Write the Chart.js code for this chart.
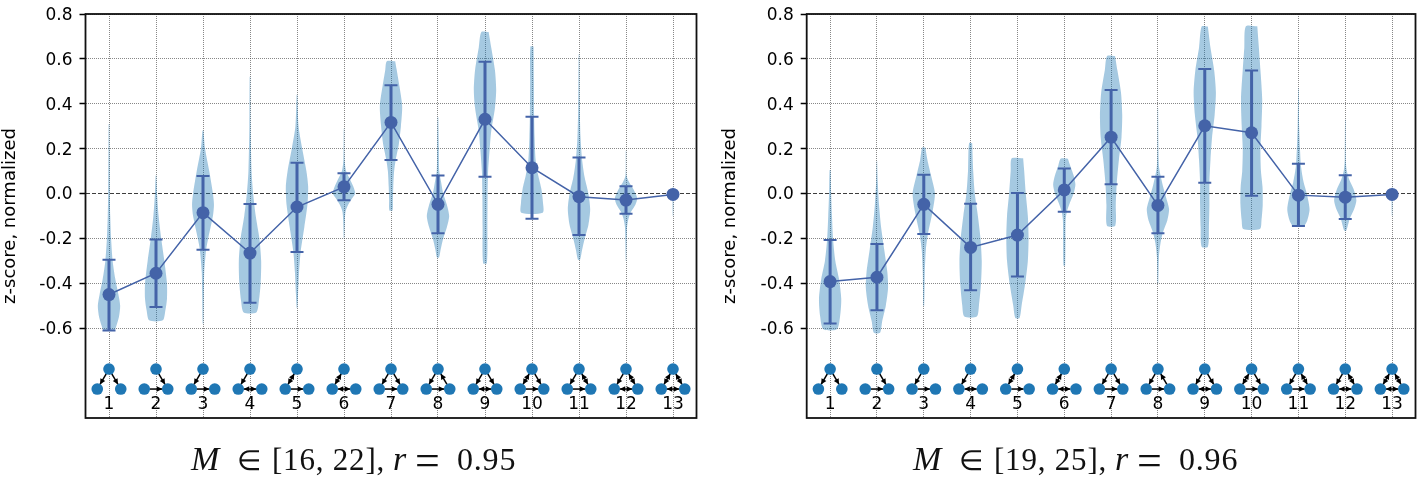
<!DOCTYPE html>
<html>
<head>
<meta charset="utf-8">
<title>z-score violins</title>
<script src="https://cdn.jsdelivr.net/npm/chart.js@4/dist/chart.umd.min.js"></script>
<style>
  html, body { margin: 0; padding: 0; background: #fff; }
  canvas { position: absolute; top: 0; }
  #leftChart { left: 0; }
  #rightChart { left: 712px; }
</style>
</head>
<body>
<canvas id="leftChart" width="712" height="480"></canvas>
<canvas id="rightChart" width="712" height="480"></canvas>
<script>
const motifIds = [1, 2, 3, 4, 5, 6, 7, 8, 9, 10, 11, 12, 13]
const yTicks = [-0.6, -0.4, -0.2, 0, 0.2, 0.4, 0.6, 0.8]

const leftMeans = [-0.45, -0.355, -0.085, -0.265, -0.06, 0.03, 0.317, -0.048, 0.331, 0.115, -0.014, -0.029, -0.004]
const leftHigh = [-0.295, -0.205, 0.078, -0.047, 0.137, 0.09, 0.483, 0.081, 0.587, 0.342, 0.161, 0.032, null]
const leftLow = [-0.61, -0.505, -0.25, -0.487, -0.26, -0.03, 0.15, -0.177, 0.075, -0.112, -0.185, -0.09, null]

const rightMeans = [-0.392, -0.373, -0.048, -0.24, -0.185, 0.016, 0.251, -0.053, 0.302, 0.271, -0.007, -0.016, -0.004]
const rightHigh = [-0.207, -0.225, 0.084, -0.045, 0.002, 0.112, 0.461, 0.075, 0.555, 0.548, 0.133, 0.082, null]
const rightLow = [-0.579, -0.52, -0.18, -0.431, -0.369, -0.081, 0.041, -0.177, 0.048, -0.01, -0.145, -0.113, null]

// each violin is a list of [z-score, density], densities peak near 10.7
const leftViolins = [
  [[0.31,0.3],[0.2,0.5],[0,0.8],[-0.1,1.2],[-0.2,2],[-0.3,3.5],[-0.38,6],[-0.45,9],[-0.5,10.7],[-0.55,9.5],[-0.59,7],[-0.61,5]],
  [[0.08,0.3],[0,1],[-0.1,2.5],[-0.2,5],[-0.3,8],[-0.4,10.5],[-0.47,10.5],[-0.52,9],[-0.565,6.5]],
  [[0.28,0.5],[0.2,2],[0.1,6],[0,9.5],[-0.05,10.5],[-0.1,9.5],[-0.2,5],[-0.25,3],[-0.35,1.2],[-0.45,0.8],[-0.58,0.3]],
  [[0.52,0.3],[0.3,0.6],[0.1,1.5],[0,3],[-0.1,5.5],[-0.2,9],[-0.3,10.7],[-0.4,10.2],[-0.48,8.5],[-0.53,6]],
  [[0.44,0.3],[0.3,1.5],[0.2,5],[0.1,9],[0.03,10.7],[-0.05,10],[-0.15,7],[-0.26,3.5],[-0.35,2],[-0.45,1],[-0.51,0.3]],
  [[0.29,0.2],[0.15,0.6],[0.1,2],[0.07,5],[0.03,9],[0,10.7],[-0.02,8],[-0.05,4],[-0.08,1.5],[-0.12,0.8],[-0.2,0.2]],
  [[0.59,4],[0.55,5.5],[0.48,8],[0.39,10.7],[0.3,9.5],[0.22,7.5],[0.15,4.5],[0.1,3],[0.03,2.2],[-0.03,1.8],[-0.075,1.5]],
  [[0.34,0.3],[0.2,0.8],[0.1,1.2],[0.05,3],[0,5],[-0.05,8.5],[-0.1,10.7],[-0.15,8.5],[-0.2,5],[-0.25,2.5],[-0.285,1]],
  [[0.72,3.5],[0.65,6],[0.55,9.5],[0.46,10.7],[0.38,9.5],[0.28,6],[0.2,4.5],[0.1,3],[0,2.5],[-0.15,2.3],[-0.31,1.8]],
  [[0.655,1.5],[0.5,1.8],[0.35,2],[0.25,2.5],[0.15,3.5],[0.08,6],[0.02,9],[-0.04,10.5],[-0.085,10.3]],
  [[0.62,0.3],[0.4,0.7],[0.25,1.5],[0.15,3],[0.07,5.5],[0,9],[-0.07,10.7],[-0.14,9],[-0.2,5.5],[-0.25,3],[-0.295,1]],
  [[0.19,0.2],[0.08,0.5],[0.05,3],[0.02,7],[-0.02,10.7],[-0.05,9],[-0.08,5],[-0.11,2.5],[-0.15,1],[-0.3,0.2]],
  [[0.03,0.2],[-0.005,0.5],[-0.1,0.2]]
]

const rightViolins = [
  [[0.105,0.5],[0,1],[-0.1,1.8],[-0.2,2.8],[-0.3,5],[-0.38,8.5],[-0.47,10.7],[-0.55,9.5],[-0.605,6.5]],
  [[0.145,0.2],[0.05,0.8],[-0.05,2],[-0.15,4],[-0.25,7],[-0.35,10],[-0.42,10.7],[-0.5,8.5],[-0.57,5],[-0.62,3]],
  [[0.205,1.5],[0.15,3.5],[0.08,7],[0,10.7],[-0.08,8.5],[-0.18,4],[-0.25,2],[-0.35,1],[-0.5,0.4]],
  [[0.225,1.5],[0.1,2.5],[0,4],[-0.1,7],[-0.2,9.5],[-0.3,10.7],[-0.4,10],[-0.5,8],[-0.548,6]],
  [[0.157,5.5],[0.1,6.5],[0,8],[-0.1,10],[-0.2,10.7],[-0.3,10],[-0.4,7.5],[-0.5,4],[-0.555,2]],
  [[0.155,3.5],[0.12,6],[0.08,9],[0.04,10.7],[0,9],[-0.04,5.5],[-0.08,2.5],[-0.12,1.3],[-0.32,0.8]],
  [[0.613,3.8],[0.55,6],[0.45,9.5],[0.35,10.7],[0.25,10],[0.15,7.5],[0.05,5.5],[-0.05,4.5],[-0.143,4]],
  [[0.38,0.2],[0.2,0.5],[0.12,1],[0.08,2.5],[0.03,5],[-0.02,8],[-0.07,10.7],[-0.12,9],[-0.17,5],[-0.22,2.5],[-0.28,1],[-0.4,0.3]],
  [[0.744,3],[0.65,5.5],[0.55,9],[0.45,10.7],[0.35,9.5],[0.25,7],[0.15,5.5],[0.05,4.5],[-0.05,4.5],[-0.15,4],[-0.237,3]],
  [[0.745,5.5],[0.65,7],[0.55,8.5],[0.42,10.2],[0.3,9.5],[0.2,8.5],[0.1,9],[0.03,10.5],[-0.05,10.7],[-0.12,9.5],[-0.158,8]],
  [[0.47,0.2],[0.3,0.7],[0.2,1.5],[0.12,2.5],[0.05,5],[0,8],[-0.07,10.7],[-0.12,8.5],[-0.145,5]],
  [[0.33,0.2],[0.15,0.5],[0.1,1.5],[0.06,4],[0.02,8],[-0.03,10.7],[-0.07,8.5],[-0.11,4.5],[-0.165,1]],
  [[0.03,0.2],[-0.005,0.5],[-0.1,0.2]]
]

// directed triad edges between the top, left and right node
const motifEdges = [
  ['T>L', 'T>R'],
  ['T>R', 'L>R'],
  ['T>L', 'L>R'],
  ['T>L', 'L<>R'],
  ['T<>L', 'L>R'],
  ['T<>L', 'L<>R'],
  ['T>L', 'T>R', 'L>R'],
  ['T>L', 'R>T', 'L>R'],
  ['T>L', 'T>R', 'L<>R'],
  ['T<>L', 'T>R', 'L>R'],
  ['T>L', 'T<>R', 'L>R'],
  ['T>L', 'T<>R', 'L<>R'],
  ['T<>L', 'T<>R', 'L<>R']
]

const leftTitle = ['M', '\u2208', '[16, 22],', 'r', '=', '0.95']
const rightTitle = ['M', '\u2208', '[19, 25],', 'r', '=', '0.96']

const blue = '#4463a8'
const violinFill = 'rgba(31,119,180,0.4)'
const nodeBlue = '#1f77b4'
const densityToX = 1 / 45
const nodeOffset = { T: [0, -0.782], L: [-0.25, -0.871], R: [0.25, -0.871] }
const serif = '"Liberation Serif"'
const titleOffsets = [0, 46, 81, 202, 224, 266]
const titleBaselines = [470, 470, 470, 470, 475, 470]
const titleFonts = ['italic 34px ' + serif, '28px ' + serif, '31px ' + serif, 'italic 34px ' + serif, '44px ' + serif, '32px ' + serif]

function violinDataset(x, profile) {
  let right = profile.map(p => ({ x: x + p[1] * densityToX, y: p[0] }))
  let left = profile.map(p => ({ x: x - p[1] * densityToX, y: p[0] })).reverse()
  return {
    type: 'scatter',
    data: right.concat(left, [right[0]]),
    showLine: true,
    fill: 'shape',
    backgroundColor: violinFill,
    borderWidth: 0,
    borderColor: 'rgba(0,0,0,0)',
    tension: 0.25,
    pointRadius: 0,
    order: 5
  }
}

function buildDatasets(means, high, low, violins) {
  let sets = violins.map((v, i) => violinDataset(motifIds[i], v))

  motifIds.forEach((x, i) => {
    if (high[i] === null) return
    sets.push({
      type: 'scatter',
      data: [{ x: x, y: low[i] }, { x: x, y: high[i] }],
      showLine: true,
      borderColor: blue,
      borderWidth: 3,
      pointStyle: 'line',
      pointRadius: 6.5,
      pointBorderColor: blue,
      pointBorderWidth: 2,
      order: 3
    })
  })

  sets.push({
    type: 'scatter',
    data: motifIds.map((x, i) => ({ x: x, y: means[i] })),
    showLine: true,
    borderColor: blue,
    borderWidth: 1.5,
    pointRadius: 6.5,
    pointBackgroundColor: blue,
    pointBorderWidth: 0,
    order: 1
  })

  let nodes = []
  motifIds.forEach(x => {
    Object.values(nodeOffset).forEach(o => nodes.push({ x: x + o[0], y: o[1] }))
  })
  sets.push({
    type: 'scatter',
    data: nodes,
    pointRadius: 5.8,
    pointBackgroundColor: nodeBlue,
    pointBorderWidth: 0,
    order: 0
  })
  return sets
}

function arrowHead(ctx, x, y, angle) {
  let len = 5.5
  let half = 2.8
  ctx.save()
  ctx.translate(x, y)
  ctx.rotate(angle)
  ctx.beginPath()
  ctx.moveTo(0, 0)
  ctx.lineTo(-len, half)
  ctx.lineTo(-len, -half)
  ctx.closePath()
  ctx.fill()
  ctx.restore()
}

const motifArrows = {
  id: 'motifArrows',
  beforeDatasetsDraw(chart) {
    let ctx = chart.ctx
    let xs = chart.scales.x
    let ys = chart.scales.y
    ctx.save()
    ctx.strokeStyle = '#000'
    ctx.fillStyle = '#000'
    ctx.lineWidth = 1.5
    motifEdges.forEach((edges, i) => {
      edges.forEach(e => {
        let both = e.includes('<>')
        let a = nodeOffset[e[0]]
        let b = nodeOffset[e[e.length - 1]]
        let x1 = xs.getPixelForValue(motifIds[i] + a[0])
        let y1 = ys.getPixelForValue(a[1])
        let x2 = xs.getPixelForValue(motifIds[i] + b[0])
        let y2 = ys.getPixelForValue(b[1])
        let angle = Math.atan2(y2 - y1, x2 - x1)
        let r = 5.5
        let sx = x1 + Math.cos(angle) * r
        let sy = y1 + Math.sin(angle) * r
        let ex = x2 - Math.cos(angle) * r
        let ey = y2 - Math.sin(angle) * r
        ctx.beginPath()
        ctx.moveTo(sx, sy)
        ctx.lineTo(ex, ey)
        ctx.stroke()
        arrowHead(ctx, ex, ey, angle)
        if (both) arrowHead(ctx, sx, sy, angle + Math.PI)
      })
    })
    ctx.restore()
  }
}

const frame = {
  id: 'frame',
  afterDraw(chart) {
    let a = chart.chartArea
    let ctx = chart.ctx
    ctx.save()
    ctx.strokeStyle = '#111'
    ctx.lineWidth = 1.8
    ctx.strokeRect(a.left, a.top, a.right - a.left, a.bottom - a.top)
    ctx.restore()
  }
}

// the caption mixes italic and upright pieces so the title plugin can't do it
const mathTitle = {
  id: 'mathTitle',
  afterDraw(chart, args, opts) {
    let ctx = chart.ctx
    ctx.save()
    ctx.fillStyle = '#111'
    ctx.textBaseline = 'alphabetic'
    ctx.letterSpacing = '0.8px'
    opts.parts.forEach((p, i) => {
      ctx.font = titleFonts[i]
      ctx.fillText(p, opts.x + titleOffsets[i], titleBaselines[i])
    })
    ctx.restore()
  }
}

function makeChart(id, means, high, low, violins, title, layout) {
  return new Chart(document.getElementById(id), {
    type: 'scatter',
    data: { datasets: buildDatasets(means, high, low, violins) },
    plugins: [motifArrows, frame, mathTitle],
    options: {
      responsive: false,
      animation: false,
      events: [],
      layout: { padding: { top: 14, right: layout.right, left: 0, bottom: 0 } },
      plugins: {
        legend: { display: false },
        tooltip: { enabled: false },
        mathTitle: { parts: title, x: layout.titleX }
      },
      scales: {
        x: {
          type: 'linear',
          min: 0.5,
          max: 13.5,
          afterBuildTicks: s => { s.ticks = motifIds.map(v => ({ value: v })) },
          afterFit: s => { s.height = 62; s.paddingLeft = 0; s.paddingRight = 0 },
          grid: { color: 'rgba(70,70,70,0.65)', drawTicks: false },
          border: { display: false, dash: [1, 1] },
          ticks: {
            autoSkip: false,
            maxRotation: 0,
            mirror: true,
            padding: 3.5,
            color: '#000',
            font: { family: 'DejaVu Sans', size: 17 },
            callback: v => String(v)
          }
        },
        y: {
          type: 'linear',
          min: -1,
          max: 0.8,
          afterBuildTicks: s => { s.ticks = yTicks.map(v => ({ value: v })) },
          afterFit: s => { s.width = layout.axisWidth; s.paddingTop = 0; s.paddingBottom = 0 },
          grid: {
            color: c => c.tick && c.tick.value === 0 ? 'rgba(40,40,40,0.9)' : 'rgba(70,70,70,0.65)',
            tickLength: 6,
            tickColor: '#000',
            tickWidth: 1.5,
            tickBorderDash: []
          },
          border: {
            display: false,
            dash: c => c.tick && c.tick.value === 0 ? [4, 2] : [1, 1]
          },
          ticks: {
            autoSkip: false,
            padding: 7,
            labelOffset: 1.5,
            color: '#000',
            font: { family: 'DejaVu Sans', size: 17 },
            callback: v => v.toFixed(1)
          },
          title: {
            display: true,
            text: 'z-score, normalized',
            color: '#000',
            font: { family: 'DejaVu Sans', size: 18 },
            padding: { top: layout.labelPad, bottom: 0 }
          }
        }
      }
    }
  })
}

makeChart('leftChart', leftMeans, leftHigh, leftLow, leftViolins, leftTitle,
  { right: 15.5, axisWidth: 85.5, labelPad: 0, titleX: 191 })
makeChart('rightChart', rightMeans, rightHigh, rightLow, rightViolins, rightTitle,
  { right: 6.3, axisWidth: 94.7, labelPad: 8, titleX: 201 })
</script>
</body>
</html>
